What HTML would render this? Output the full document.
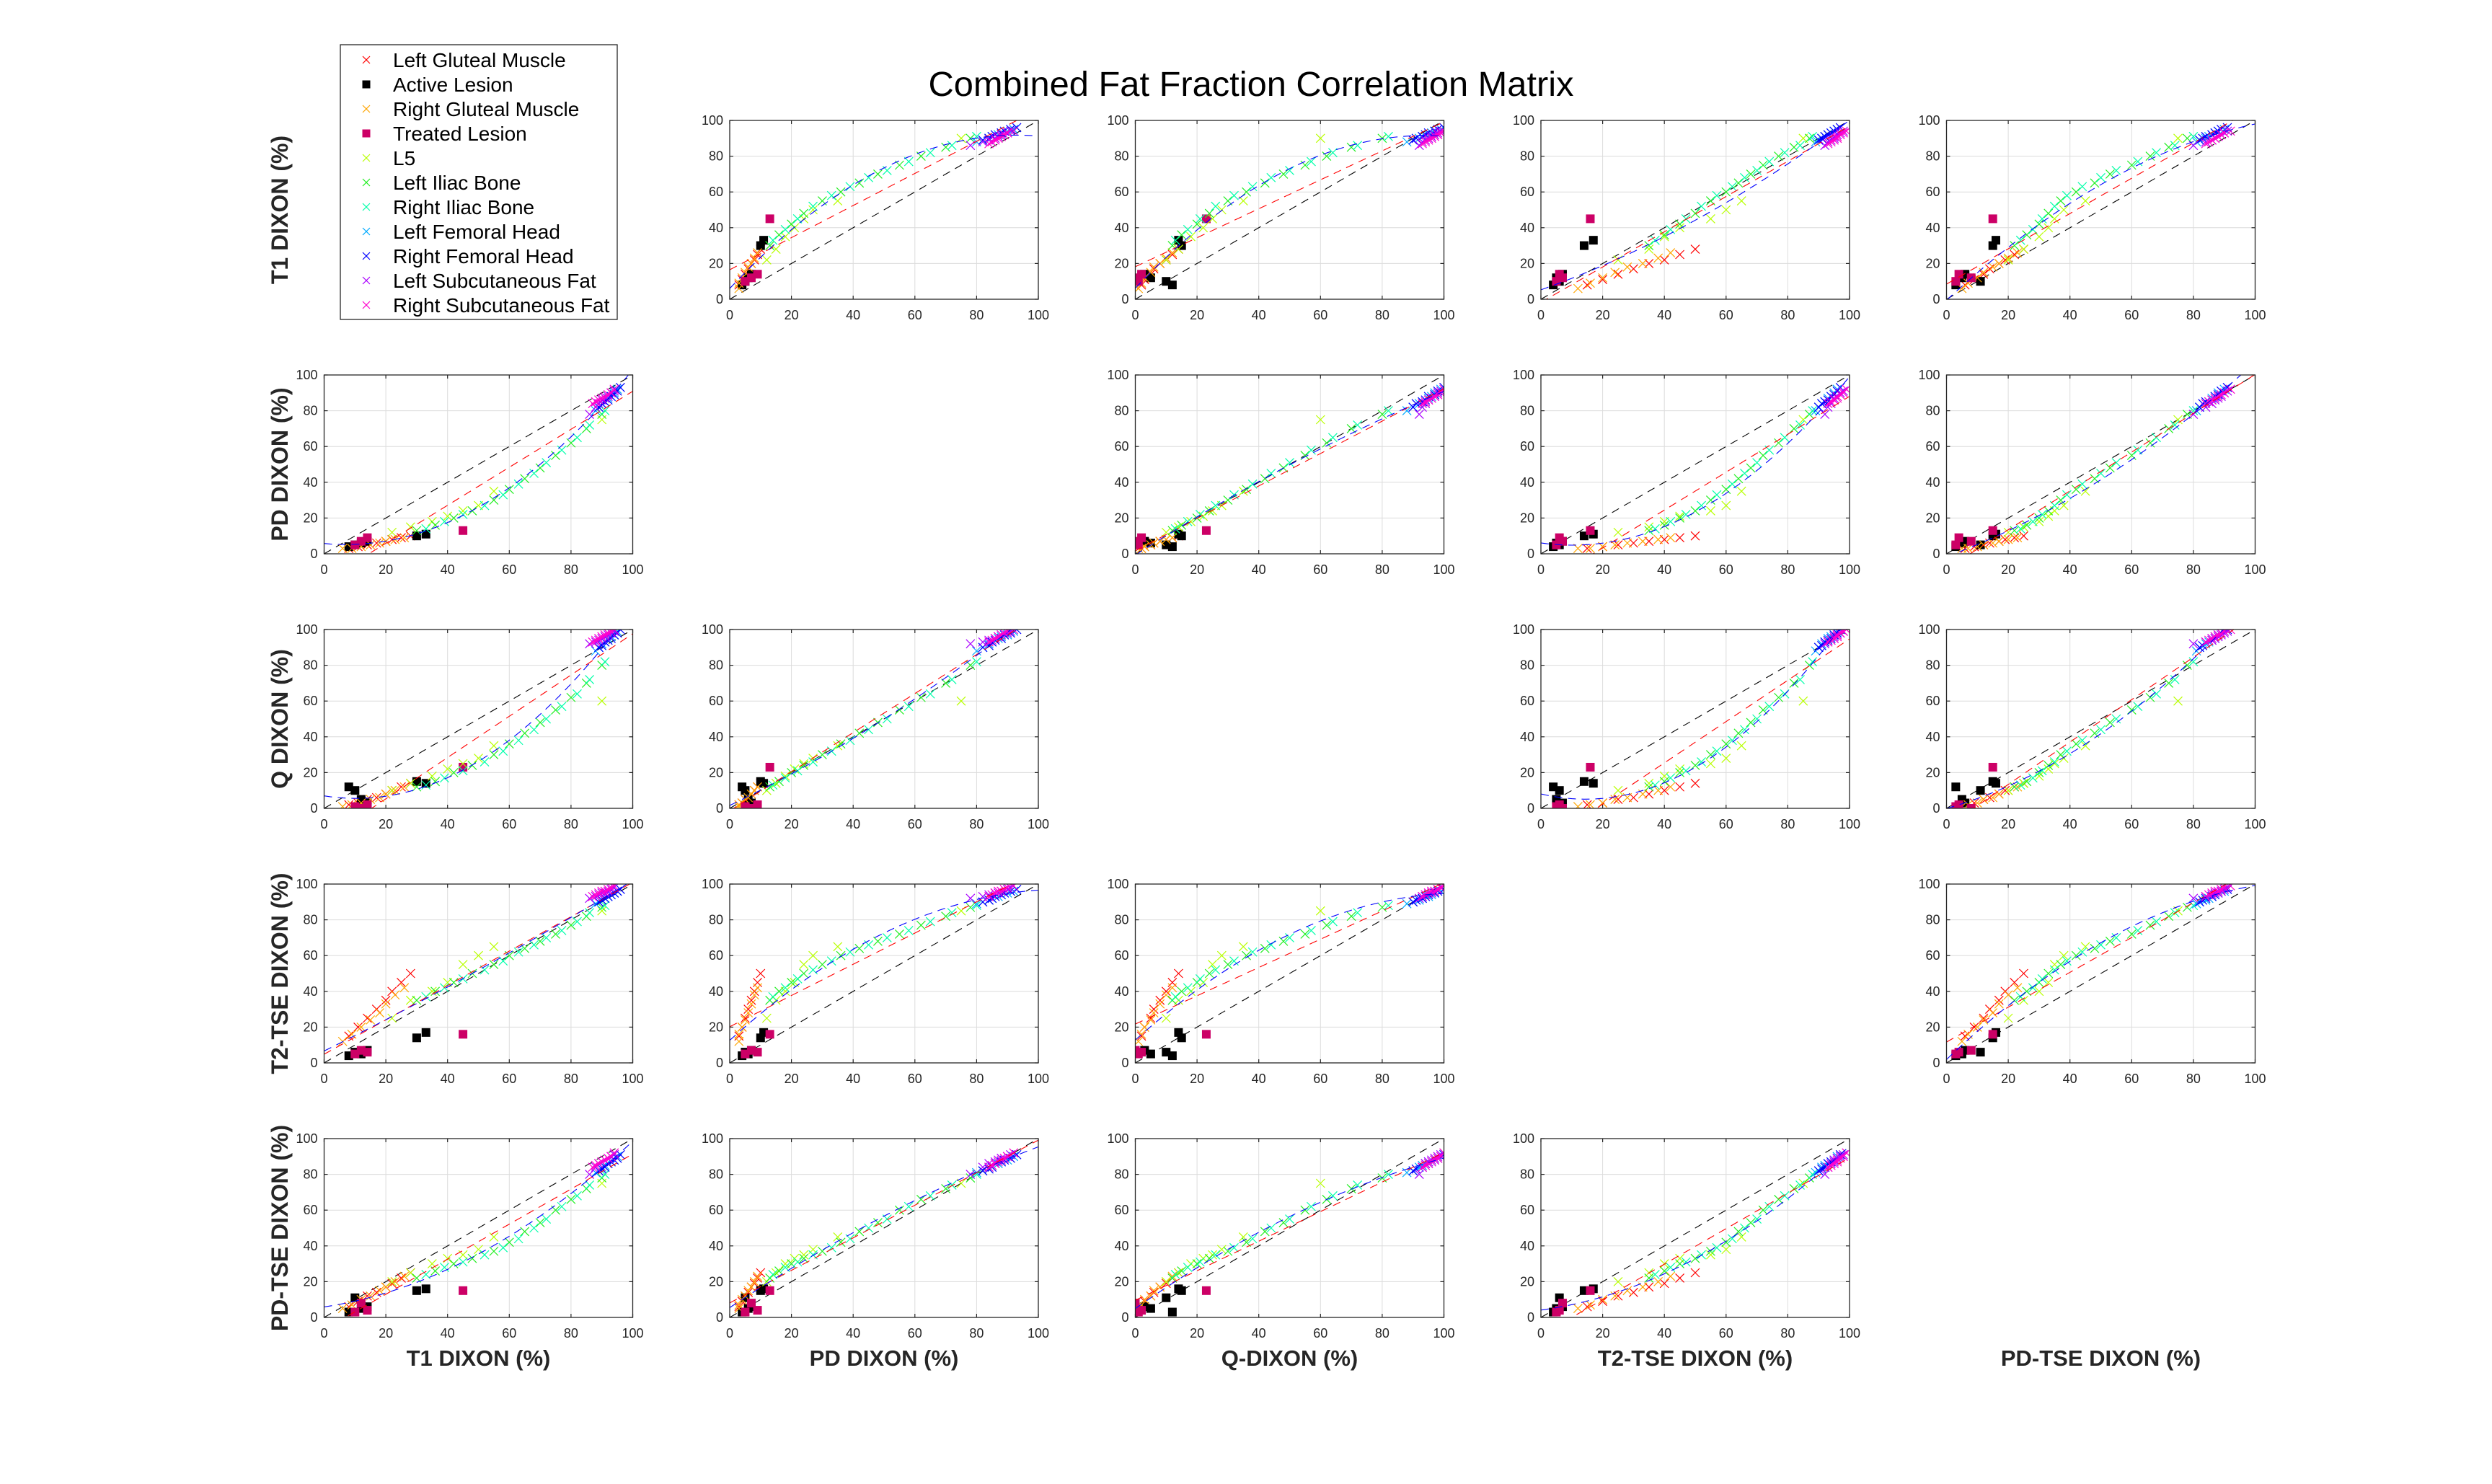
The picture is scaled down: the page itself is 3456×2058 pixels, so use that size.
<!DOCTYPE html>
<html><head><meta charset="utf-8"><style>
html,body{margin:0;padding:0;background:#fff;}
svg{display:block;font-family:"Liberation Sans",Arial,sans-serif;}
</style></head><body>
<svg id="chart" width="3456" height="2058" viewBox="0 0 3456 2058" xmlns="http://www.w3.org/2000/svg">
<rect width="3456" height="2058" fill="#fff"/>
<text x="1735" y="133" font-size="48" text-anchor="middle" textLength="895" lengthAdjust="spacingAndGlyphs" fill="#000">Combined Fat Fraction Correlation Matrix</text>
<g id="panels"></g>
<g id="legend"></g>
</svg>
<script>
// Methods (rows/cols order)
const methodKeys = ['T1','PD','Q','T2','PDT'];
const yAxisTitles = ['T1 DIXON (%)','PD DIXON (%)','Q DIXON (%)','T2-TSE DIXON (%)','PD-TSE DIXON (%)'];
const xAxisTitles = ['T1 DIXON (%)','PD DIXON (%)','Q-DIXON (%)','T2-TSE DIXON (%)','PD-TSE DIXON (%)'];
const tickValues = [0,20,40,60,80,100];
const tickLabels = ['0','20','40','60','80','100'];

// Per-tissue values, one small object per tissue (samples aligned across methods)
const leftGluteal = {T1:[8,11,14,17,20,22,25,28], PD:[3,4,5,6,7,8,9,10], Q:[2,3,5,6,8,10,12,14], T2:[15,20,25,30,35,40,45,50], PDT:[6,9,12,14,17,19,22,25]};
const activeLesion = {T1:[8,10,12,14,30,33], PD:[4,5,6,7,10,11], Q:[12,10,5,3,15,14], T2:[4,6,5,7,14,17], PDT:[3,11,5,6,15,16]};
const rightGluteal = {T1:[6,9,12,15,18,20,23,26], PD:[3,3,4,5,6,7,8,9], Q:[1,2,3,5,6,8,10,12], T2:[12,16,20,24,28,33,38,42], PDT:[5,7,10,12,15,17,20,23]};
const treatedLesion = {T1:[10,12,14,45], PD:[5,7,9,13], Q:[1,0,2,23], T2:[5,7,6,16], PDT:[3,8,4,15]};
const l5 = {T1:[22,28,35,40,45,50,55,90], PD:[12,15,18,21,24,27,35,75], Q:[10,14,18,22,25,28,35,60], T2:[25,35,40,45,55,60,65,85], PDT:[20,25,30,33,35,38,45,75]};
const leftIliac = {T1:[30,36,42,48,55,60,65,70,75,80,85,90], PD:[13,16,20,24,30,36,42,48,55,62,70,78], Q:[12,15,20,24,30,36,42,48,55,62,70,80], T2:[35,40,45,50,55,60,64,68,72,77,82,87], PDT:[22,26,30,33,37,42,48,53,60,66,72,78]};
const rightIliac = {T1:[33,39,45,52,58,63,68,72,77,82,86,91], PD:[14,18,22,27,33,39,45,51,58,65,72,80], Q:[13,17,21,26,32,38,44,50,57,64,72,82], T2:[37,42,47,52,57,62,66,70,74,79,84,88], PDT:[24,28,31,35,39,44,50,55,62,68,74,80]};
const leftFemoral = {T1:[88,89,90,91,92,93,94,95], PD:[80,82,84,85,87,88,90,92], Q:[88,90,92,93,95,96,97,99], T2:[89,90,91,92,93,94,95,96], PDT:[81,82,84,85,86,87,88,90]};
const rightFemoral = {T1:[89,90,91,92,93,94,95,96], PD:[82,84,85,86,88,89,91,93], Q:[90,91,93,94,95,97,98,100], T2:[90,91,92,93,94,95,96,97], PDT:[82,83,84,86,87,88,89,91]};
const leftSubcut = {T1:[86,88,89,90,91,92,93,94], PD:[78,82,84,86,87,88,90,91], Q:[92,93,94,95,96,97,98,99], T2:[92,93,94,95,95,96,97,98], PDT:[80,84,86,87,88,89,90,91]};
const rightSubcut = {T1:[87,88,89,90,91,92,93,94], PD:[84,85,86,87,88,89,90,92], Q:[93,94,95,96,97,98,99,100], T2:[93,94,95,96,96,97,98,99], PDT:[84,85,86,87,88,89,90,92]};

const seriesNames = ['Left Gluteal Muscle','Active Lesion','Right Gluteal Muscle','Treated Lesion','L5','Left Iliac Bone','Right Iliac Bone','Left Femoral Head','Right Femoral Head','Left Subcutaneous Fat','Right Subcutaneous Fat'];
const seriesData = [leftGluteal,activeLesion,rightGluteal,treatedLesion,l5,leftIliac,rightIliac,leftFemoral,rightFemoral,leftSubcut,rightSubcut];
const seriesColors = ['#ff0000','#000000','#ffa500','#cc0066','#b8ff00','#22ee22','#00ffaa','#00aaff','#0000ff','#aa00ff','#ff00cc'];
const seriesMarkers = ['x','s','x','s','x','x','x','x','x','x','x'];

const NS='http://www.w3.org/2000/svg';
const colLeft=[449.5,1012,1574.5,2137,2699.5], rowTop=[167,520,873,1226,1579];
const PW=428, PH=248;
function mk(tag,attrs,parent){const e=document.createElementNS(NS,tag);for(const k in attrs)e.setAttribute(k,attrs[k]);if(parent)parent.appendChild(e);return e;}
const panels=document.getElementById('panels');

function fitPoly(xs,ys,deg){
  const n=deg+1;const A=[];for(let i=0;i<n;i++){A.push(new Array(n+1).fill(0));}
  for(let k=0;k<xs.length;k++){for(let i=0;i<n;i++){for(let j=0;j<n;j++)A[i][j]+=Math.pow(xs[k],i+j);A[i][n]+=ys[k]*Math.pow(xs[k],i);}}
  for(let i=0;i<n;i++){let p=i;for(let r=i+1;r<n;r++)if(Math.abs(A[r][i])>Math.abs(A[p][i]))p=r;[A[i],A[p]]=[A[p],A[i]];
    for(let r=0;r<n;r++){if(r===i)continue;const f=A[r][i]/A[i][i];for(let c=i;c<=n;c++)A[r][c]-=f*A[i][c];}}
  return A.map((row,i)=>row[n]/row[i]);
}

for(let r=0;r<5;r++){for(let c=0;c<5;c++){
  if(r===c) continue;
  if(r===0&&c===0) continue;
  const x0=colLeft[c], y0=rowTop[r];
  const sx=v=>x0+v/100*PW, sy=v=>y0+PH-v/100*PH;
  const g=mk('g',{},panels);
  
  
  const cid='clip'+r+c;
  const cp=mk('clipPath',{id:cid},g);mk('rect',{x:x0,y:y0,width:PW,height:PH},cp);
  mk('rect',{x:x0,y:y0,width:PW,height:PH,fill:'#fff'},g);
  const grid=mk('g',{stroke:'#dcdcdc','stroke-width':1},g);
  
  
  tickValues.forEach(t=>{if(t>0&&t<100){mk('line',{x1:sx(t),x2:sx(t),y1:y0,y2:y0+PH},grid);mk('line',{x1:x0,x2:x0+PW,y1:sy(t),y2:sy(t)},grid);}});
  const mx=methodKeys[c], my=methodKeys[r];
  const allX=[],allY=[];
  seriesData.forEach(s=>{s[mx].forEach((v,i)=>{allX.push(v);allY.push(s[my][i]);});});
  const plot=mk('g',{'clip-path':'url(#'+cid+')'},g);
  const idl=mk('line',{x1:sx(0),y1:sy(0),x2:sx(100),y2:sy(100),stroke:'#000','stroke-width':1.1,'stroke-dasharray':'11,8'},plot);
  
  
  seriesData.forEach((s,si)=>{
    const sg=mk('g',{},plot);
    
    
    let d='';
    s[mx].forEach((v,i)=>{
      const px=sx(v), py=sy(s[my][i]);
      if(seriesMarkers[si]==='x'){d+='M'+(px-6)+' '+(py-6)+'L'+(px+6)+' '+(py+6)+'M'+(px-6)+' '+(py+6)+'L'+(px+6)+' '+(py-6);}
      else{mk('rect',{x:px-6,y:py-6,width:12,height:12,fill:seriesColors[si]},sg);}
    });
    if(d) mk('path',{d:d,stroke:seriesColors[si],'stroke-width':1.2,fill:'none'},sg);
  });
  const lin=fitPoly(allX,allY,1), quad=fitPoly(allX,allY,2);
  let dl='',dq='';
  for(let v=0;v<=100;v+=2){const yl=lin[0]+lin[1]*v, yq=quad[0]+quad[1]*v+quad[2]*v*v;dl+=(v?'L':'M')+sx(v)+' '+sy(yl);dq+=(v?'L':'M')+sx(v)+' '+sy(yq);}
  const fr=mk('path',{d:dl,stroke:'#ff0000','stroke-width':1.1,fill:'none','stroke-dasharray':'11,8'},plot);
  
  
  const fb=mk('path',{d:dq,stroke:'#0000ff','stroke-width':1.1,fill:'none','stroke-dasharray':'11,8'},plot);
  
  
  mk('rect',{x:x0,y:y0,width:PW,height:PH,fill:'none',stroke:'#262626','stroke-width':1.3},g);
  const tk=mk('g',{stroke:'#262626','stroke-width':1.2},g);
  const tl=mk('g',{'font-size':18,fill:'#262626'},g);
  
  
  tickValues.forEach((t,i)=>{
    mk('line',{x1:sx(t),x2:sx(t),y1:y0+PH,y2:y0+PH-5},tk);mk('line',{x1:sx(t),x2:sx(t),y1:y0,y2:y0+5},tk);
    mk('line',{x1:x0,x2:x0+5,y1:sy(t),y2:sy(t)},tk);mk('line',{x1:x0+PW,x2:x0+PW-5,y1:sy(t),y2:sy(t)},tk);
    const a=mk('text',{x:sx(t),y:y0+PH+28,'text-anchor':'middle'},tl);a.textContent=tickLabels[i];
    const b=mk('text',{x:x0-9,y:sy(t)+6,'text-anchor':'end'},tl);b.textContent=tickLabels[i];
  });
}}
for(let r=0;r<5;r++){
  const cy=rowTop[r]+PH/2;
  const t=mk('text',{x:0,y:0,transform:'translate(399,'+cy+') rotate(-90)','text-anchor':'middle','font-size':32,'font-weight':'bold',fill:'#262626'},panels);
  
  
  t.textContent=yAxisTitles[r];
}
for(let c=0;c<5;c++){
  const t=mk('text',{x:colLeft[c]+PW/2,y:1894,'text-anchor':'middle','font-size':31,'font-weight':'bold',fill:'#262626'},panels);
  
  
  t.textContent=xAxisTitles[c];
}
const lg=document.getElementById('legend');
mk('rect',{x:472,y:62,width:384,height:381,fill:'#fff',stroke:'#262626','stroke-width':1.3},lg);
seriesNames.forEach((n,i)=>{
  const cy=83+i*34;
  const e=mk('g',{},lg);
  
  
  if(seriesMarkers[i]==='x') mk('path',{d:'M503 '+(cy-5)+'L513 '+(cy+5)+'M503 '+(cy+5)+'L513 '+(cy-5),stroke:seriesColors[i],'stroke-width':1.2},e);
  else mk('rect',{x:502.5,y:cy-5.5,width:11,height:11,fill:seriesColors[i]},e);
  const t=mk('text',{x:545,y:cy+10,'font-size':28,fill:'#000'},e);t.textContent=n;
});
</script>
</body></html>
